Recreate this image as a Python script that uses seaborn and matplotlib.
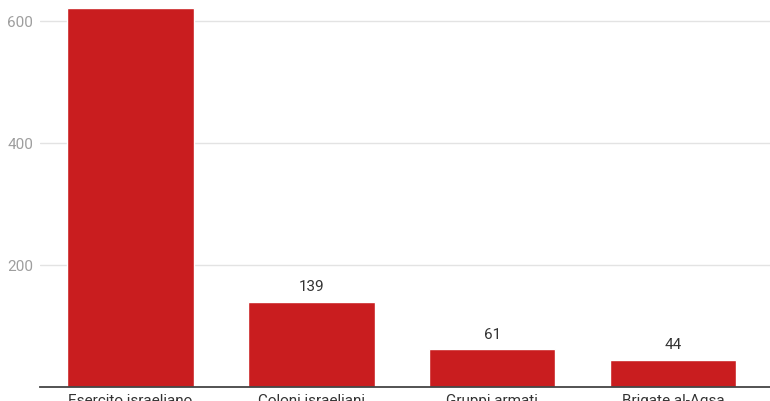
import matplotlib
matplotlib.use("Agg")
import matplotlib.pyplot as plt
import seaborn as sns
import pandas as pd

categories = ["Esercito israeliano", "Coloni israeliani", "Gruppi armati", "Brigate al-Aqsa"]
values = [621, 139, 61, 44]

df = pd.DataFrame({"gruppo": categories, "vittime": values})

sns.set_theme(style="white")
plt.rcParams['font.family'] = ['Roboto', 'DejaVu Sans']

fig = plt.figure(figsize=(7.7, 4.02), dpi=100)
ax = fig.add_axes([40 / 770, 14.5 / 402, 730 / 770, 386 / 402])

sns.barplot(data=df, x="gruppo", y="vittime", color="#c91d1f", saturation=1,
            width=0.7, ax=ax, zorder=3)

ax.set_ylim(0, 633)
ax.set_xlim(-0.5, 3.536)
ax.set_yticks([200, 400, 600])
ax.grid(axis="y", color="#e3e3e3", linewidth=1, zorder=0)
ax.set_axisbelow(True)

for s in ["top", "right", "left"]:
    ax.spines[s].set_visible(False)
ax.spines["bottom"].set_color("#444444")
ax.spines["bottom"].set_linewidth(1.3)
ax.spines["bottom"].set_zorder(4)

ax.tick_params(axis="y", length=0, pad=5, labelsize=11, labelcolor="#9e9e9e")
ax.tick_params(axis="x", length=0, pad=5, labelsize=11, labelcolor="#333333")
ax.set_xlabel("")
ax.set_ylabel("")

ax.bar_label(ax.containers[0], labels=[str(v) for v in values], padding=6,
             fontsize=11, color="#333333")

plt.savefig("out.png", dpi=100)
